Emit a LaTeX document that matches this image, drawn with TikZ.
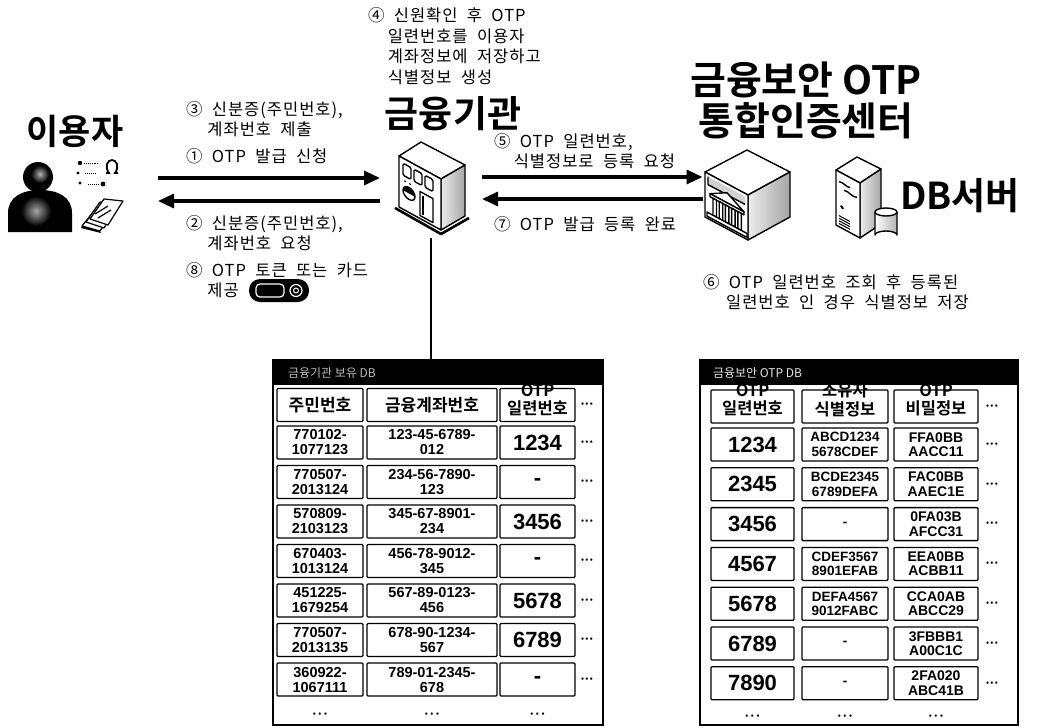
\documentclass[tikz,border=0pt]{standalone}
\usepackage{fontspec}
\usetikzlibrary{arrows.meta,calc}
\setmainfont{Noto Sans CJK KR}[BoldFont={Noto Sans CJK KR Bold}]
\newfontfamily\kr{Noto Sans CJK KR}[BoldFont={Noto Sans CJK KR Bold}]
\newfontfamily\krtext{Noto Sans CJK KR}[WordSpace=2.0, LetterSpace=6]
\newfontfamily\tabfont{Liberation Sans}

\tikzset{
  every node/.style={inner sep=0pt, outer sep=0pt},
  ttl/.style={font=\kr\bfseries\fontsize{36}{40}\selectfont, align=center},
  lbl/.style={font=\krtext\fontsize{16.5}{20.5}\selectfont, align=left, anchor=west},
  flow/.style={line width=3.2pt, -{Triangle[length=16pt,width=14pt]}},
  tblframe/.style={line width=2.6pt},
  cell/.style={draw, line width=1.3pt, rounded corners=1pt, align=center,
    font=\tabfont\bfseries\fontsize{14.5}{15}\selectfont, minimum height=33pt},
  bignum/.style={font=\tabfont\bfseries\fontsize{22}{22}\selectfont},
  headtxt/.style={font=\kr\bfseries\fontsize{16.5}{18.5}\selectfont, align=center},
  rowdots/.style={font=\kr\bfseries\fontsize{8}{8}\selectfont},
  dbtitle/.style={font=\kr\fontsize{12}{12}\selectfont, anchor=west},
  hot/.style={minimum height=100pt},
}

\begin{document}
\begin{tikzpicture}[x=1pt,y=-1pt]
\useasboundingbox (0,0) rectangle (1044,728);
\fill[white] (0,0) rectangle (1044,728);

% ---------- titles ----------
\node[ttl, font=\kr\bfseries\fontsize{35}{40}\selectfont] (usertitle) at (75,131) {이용자};
\node[ttl, font=\kr\bfseries\fontsize{37}{40}\selectfont] (banktitle) at (453,114) {금융기관};
\node[ttl, font=\kr\bfseries\fontsize{39}{41}\selectfont] (centertitle) at (806,100) {금융보안 OTP\\통합인증센터};
\node[ttl, font=\kr\bfseries\fontsize{37}{37}\selectfont] (dbtitle) at (960,196) {DB서버};

% ---------- anchor zones for the connectors ----------
\node[hot, minimum width=150pt] (user) at (83,189) {};
\node[hot, minimum width=102pt, minimum height=98pt] (bank) at (431,189) {};
\node[hot, minimum width=93pt] (otpc) at (749,189) {};
\node[hot, minimum width=70pt] (dbsrv) at (865,195) {};

% ---------- user icon ----------
\fill (38,177) circle (15);
\fill (8,232) -- (8,213) .. controls (8,197) and (22,190) .. (40,190)
      .. controls (58,190) and (72,197) .. (72,213) -- (72,232) -- cycle;
\shade[inner color=gray!60, outer color=black] (40,174) circle (9);
\shade[inner color=gray!70, outer color=black] (36,211) circle (15);
% small id documents
\fill (80,163) circle (2.2);
\draw[densely dotted, line width=0.9pt] (84,163) -- (98,163);
\fill (78,173) circle (1.6);
\draw[densely dotted, line width=0.9pt] (85,173) -- (96,173);
\fill (80,183) circle (1.6);
\draw[densely dotted, line width=0.9pt] (88,184) -- (99,184);
\fill (103,184) circle (2.4);
\draw[line width=1.8pt] (106,173) -- (109,173) .. controls (104,166) and (108,160) .. (112,160)
      .. controls (116,160) and (120,166) .. (115,173) -- (118,173);
% passbook
\begin{scope}[line width=1.2pt, line join=round]
  \draw[fill=white] (82,226) -- (98,206) -- (114,211) -- (100,231) -- cycle;
  \draw[fill=white] (86,222) -- (100,202) -- (118,205) -- (104,228) -- cycle;
  \draw[fill=white] (90,219) -- (104,199) -- (123,201) -- (108,225) -- cycle;
  \fill (82,226) -- (100,231) -- (101,233) -- (81,228) -- cycle;
  \draw (95,214) -- (108,206);
  \draw (98,218) -- (111,210);
\end{scope}

% ---------- bank icon ----------
\begin{scope}[line width=1.4pt, line join=round]
  \draw[line width=2.6pt] (395,208) -- (441,234) -- (469,218);
  \draw[fill=white] (399,156) -- (421,142) -- (465,165) -- (441,179) -- cycle;
  \shade[left color=gray!15, right color=gray!70] (441,179) -- (465,165) -- (465,216) -- (441,230) -- cycle;
  \draw (441,179) -- (465,165) -- (465,216) -- (441,230) -- cycle;
  \draw[fill=white] (399,156) -- (441,179) -- (441,230) -- (399,207) -- cycle;
  \begin{scope}[shift={(399,156)}, yslant=-0.548]
    \foreach \k in {0,1,2} \draw[rounded corners=1.5pt] (4+11*\k,5) rectangle (12+11*\k,17);
    \fill (6,22) circle (1); \fill (11,22) circle (1);
    \draw[fill=white] (10,32) circle (6);
    \fill (10,32) -- ++(6,0) arc[start angle=0, end angle=-180, radius=6] -- cycle;
    \draw (21,24) rectangle (34,48);
    \draw (24,27) -- (24,46);
  \end{scope}
\end{scope}

% ---------- OTP centre icon ----------
\begin{scope}[line width=1.4pt, line join=round]
  \draw[fill=white] (705,172) -- (747,150) -- (790,172) -- (748,195) -- cycle;
  \shade[left color=gray!15, right color=gray!70] (748,195) -- (790,172) -- (790,217) -- (748,240) -- cycle;
  \draw (748,195) -- (790,172) -- (790,217) -- (748,240) -- cycle;
  \draw[fill=white] (705,172) -- (748,195) -- (748,240) -- (705,217) -- cycle;
  \begin{scope}[shift={(705,172)}, yslant=-0.535]
    \fill[gray!35] (3,3) rectangle (40,11);
    \draw (3,3) -- (3,11) -- (40,11);
    \draw[fill=white] (5,19) -- (22,9) -- (39,19) -- cycle;
    \draw[fill=white] (5,19) rectangle (39,22);
    \foreach \k in {0,...,4} \draw[fill=white] (8+6.2*\k,22) rectangle (11.5+6.2*\k,39);
    \draw[fill=white] (2,39) rectangle (42,43);
  \end{scope}
\end{scope}

% ---------- DB server icon ----------
\begin{scope}[line width=1.4pt, line join=round]
  \draw[fill=white] (836,170) -- (857,157) -- (881,169) -- (860,183) -- cycle;
  \shade[left color=gray!15, right color=gray!70] (860,183) -- (881,169) -- (881,224) -- (860,238) -- cycle;
  \draw (860,183) -- (881,169) -- (881,224) -- (860,238) -- cycle;
  \draw[fill=white] (836,170) -- (860,183) -- (860,238) -- (836,225) -- cycle;
  \begin{scope}[shift={(836,170)}, yslant=-0.54]
    \draw (3,10) .. controls (8,8) and (10,12) .. (14,10);
    \draw (8,16) .. controls (13,14) and (16,19) .. (21,16);
    \fill (6,34) circle (1.8);
    \foreach \k in {0,...,3} \draw[line width=1pt] (3,44+2.6*\k) -- (14,44+2.6*\k);
  \end{scope}
  \shade[left color=white, right color=gray!60] (875,212) -- (875,235) arc[start angle=180, end angle=360, x radius=11, y radius=4] -- (897,212) -- cycle;
  \draw (875,212) -- (875,235) arc[start angle=180, end angle=360, x radius=11, y radius=4] -- (897,212);
  \draw[fill=white] (886,212) ellipse[x radius=11, y radius=4];
\end{scope}

% ---------- flows ----------
\draw[flow] ([yshift=11pt]user.east) -- ([yshift=11pt]bank.west);
\draw[flow] ([yshift=-12pt]bank.west) -- ([yshift=-12pt]user.east);
\draw[flow] ([yshift=12pt]bank.east) -- ([yshift=12pt]otpc.west);
\draw[flow] ([yshift=-10pt]otpc.west) -- ([yshift=-10pt]bank.east);

% ---------- step labels ----------
\node[lbl] (s3) at (186,119) {③ 신분증(주민번호),\\\hspace*{1.3em}계좌번호 제출};
\node[lbl] (s1) at (186,156) {① OTP 발급 신청};
\node[lbl] (s2) at (186,233) {② 신분증(주민번호),\\\hspace*{1.3em}계좌번호 요청};
\node[lbl] (s8) at (186,280) {⑧ OTP 토큰 또는 카드\\\hspace*{1.3em}제공};
\node[lbl] (s4) at (368,46) {④ 신원확인 후 OTP\\\hspace*{1.2em}일련번호를 이용자\\\hspace*{1.2em}계좌정보에 저장하고\\\hspace*{1.2em}식별정보 생성};
\node[lbl] (s5) at (494,151) {⑤ OTP 일련번호,\\\hspace*{1.2em}식별정보로 등록 요청};
\node[lbl] (s7) at (494,224) {⑦ OTP 발급 등록 완료};
\node[lbl] (s6) at (703,292) {⑥ OTP 일련번호 조회 후 등록된\\\hspace*{1.4em}일련번호 인 경우 식별정보 저장};

% OTP token
\fill[rounded corners=11pt] (249,279) rectangle (309,302);
\draw[white, line width=1.2pt, rounded corners=4pt] (256,284) rectangle (284,297);
\draw[white, line width=1.2pt] (296,290.5) circle (6);
\draw[white, line width=1pt] (296,290.5) circle (2.5);

% ---------- bank DB table ----------
\node[minimum width=330pt, minimum height=365pt] (ltab) at (438,542.5) {};
\draw[line width=2.6pt] (bank.south) -- (bank.south |- ltab.north);

\node[cell, font=\kr\bfseries\fontsize{17}{18}\selectfont, minimum width=86pt] (Lh1) at (320,405) {주민번호};
\node[cell, font=\kr\bfseries\fontsize{17}{18}\selectfont, minimum width=130pt] (Lh2) at (432,405) {금융계좌번호};
\node[cell, minimum width=75pt] (Lh3) at (537.5,405) {};
\node[headtxt] (Lh3t) at (537.5,400) {OTP\\일련번호};
\node[rowdots] (Lhd) at (587,405) {•\,•\,•};

\foreach \i/\a/\b/\c in {
  1/{770102-\\1077123}/{123-45-6789-\\012}/1234,
  2/{770507-\\2013124}/{234-56-7890-\\123}/-,
  3/{570809-\\2103123}/{345-67-8901-\\234}/3456,
  4/{670403-\\1013124}/{456-78-9012-\\345}/-,
  5/{451225-\\1679254}/{567-89-0123-\\456}/5678,
  6/{770507-\\2013135}/{678-90-1234-\\567}/6789,
  7/{360922-\\1067111}/{789-01-2345-\\678}/-}{
  \pgfmathsetmacro\yy{442.5+39.5*(\i-1)}
  \node[cell, minimum width=86pt] (L\i-a) at (320,\yy) {\a};
  \node[cell, minimum width=130pt] (L\i-b) at (432,\yy) {\b};
  \node[cell, bignum, minimum width=75pt] (L\i-c) at (537.5,\yy) {\c};
  \node[rowdots] (L\i-d) at (587,\yy) {•\,•\,•};
}
\node[rowdots] (Lb1) at (320,715) {•\,\,•\,\,•};
\node[rowdots] (Lb2) at (432,715) {•\,\,•\,\,•};
\node[rowdots] (Lb3) at (537.5,715) {•\,\,•\,\,•};

\fill (ltab.north west) rectangle ([yshift=-25pt]ltab.north east);
\node[dbtitle, text=gray!55] (ltitle) at (288,373) {금융기관 보유 DB};
\draw[tblframe] (ltab.north west) rectangle (ltab.south east);

% ---------- OTP DB table ----------
\node[minimum width=318pt, minimum height=365pt] (rtab) at (859,542.5) {};

\node[cell, minimum width=83pt] (Rh1) at (752.5,406.5) {};
\node[cell, minimum width=86pt] (Rh2) at (845,406.5) {};
\node[cell, minimum width=84pt] (Rh3) at (936,406.5) {};
\node[headtxt] (Rh1t) at (752.5,400) {OTP\\일련번호};
\node[headtxt] (Rh2t) at (845,400) {소유자\\식별정보};
\node[headtxt] (Rh3t) at (936,400) {OTP\\비밀정보};
\node[rowdots] (Rhd) at (992,406.5) {•\,•\,•};

\foreach \i/\a/\b/\c in {
  1/1234/{ABCD1234\\5678CDEF}/{FFA0BB\\AACC11},
  2/2345/{BCDE2345\\6789DEFA}/{FAC0BB\\AAEC1E},
  3/3456/-/{0FA03B\\AFCC31},
  4/4567/{CDEF3567\\8901EFAB}/{EEA0BB\\ACBB11},
  5/5678/{DEFA4567\\9012FABC}/{CCA0AB\\ABCC29},
  6/6789/-/{3FBBB1\\A00C1C},
  7/7890/-/{2FA020\\ABC41B}}{
  \pgfmathsetmacro\yy{444.5+39.8*(\i-1)}
  \node[cell, bignum, minimum width=83pt] (R\i-a) at (752.5,\yy) {\a};
  \node[cell, minimum width=86pt, font=\tabfont\bfseries\fontsize{13.5}{14.5}\selectfont] (R\i-b) at (845,\yy) {\b};
  \node[cell, minimum width=84pt, font=\tabfont\bfseries\fontsize{14}{14.5}\selectfont] (R\i-c) at (936,\yy) {\c};
  \node[rowdots] (R\i-d) at (992,\yy) {•\,•\,•};
}
\node[rowdots] (Rb1) at (752.5,717) {•\,\,•\,\,•};
\node[rowdots] (Rb2) at (845,717) {•\,\,•\,\,•};
\node[rowdots] (Rb3) at (936,717) {•\,\,•\,\,•};

\fill (rtab.north west) rectangle ([yshift=-25pt]rtab.north east);
\node[dbtitle, text=gray!20] (rtitle) at (713,373) {금융보안 OTP DB};
\draw[tblframe] (rtab.north west) rectangle (rtab.south east);
\end{tikzpicture}
\end{document}
